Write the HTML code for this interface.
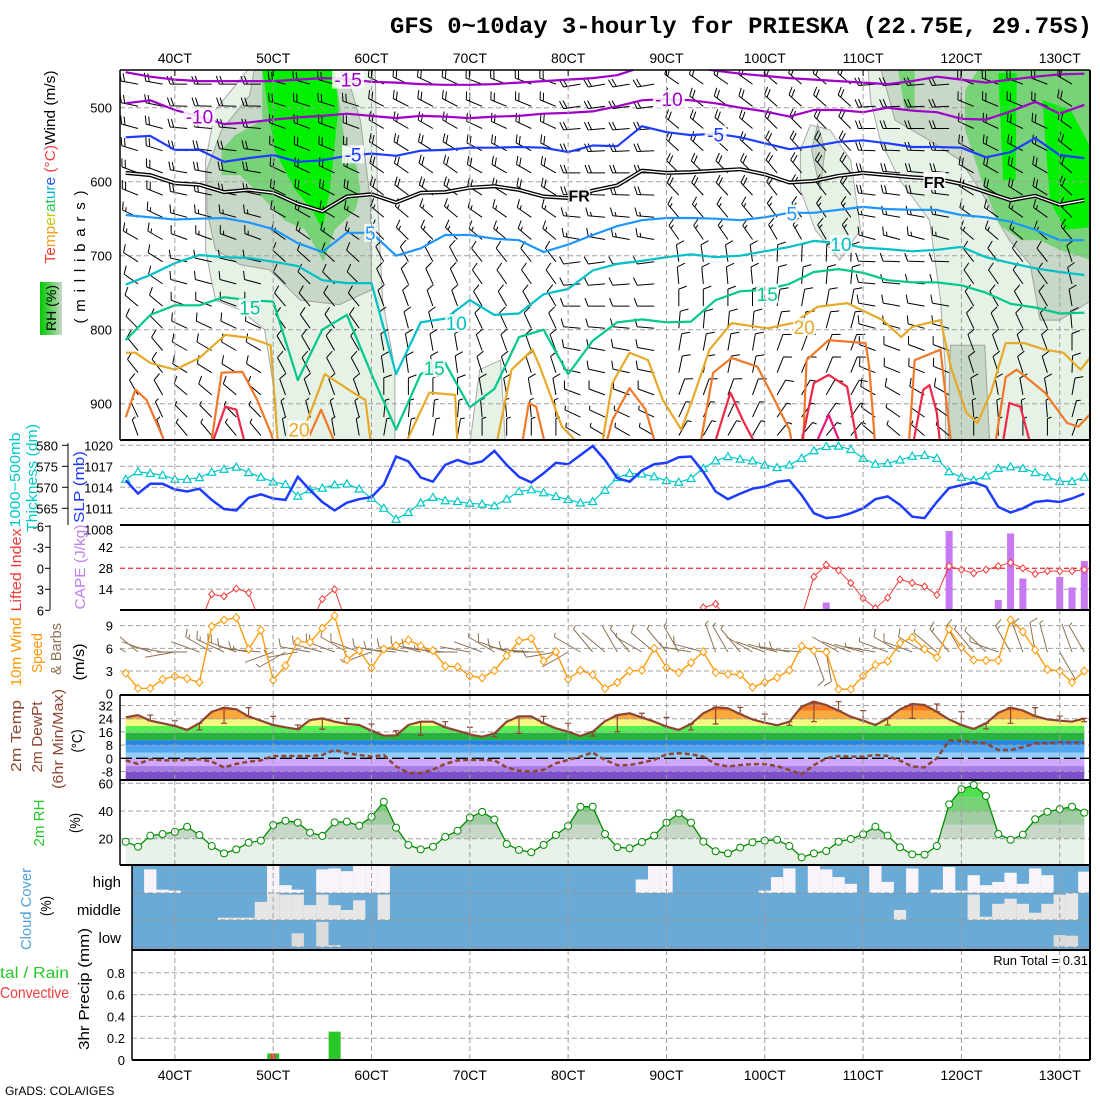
<!DOCTYPE html>
<html><head><meta charset="utf-8"><title>GFS meteogram PRIESKA</title>
<style>
html,body{margin:0;padding:0;background:#fff;}
svg{display:block;font-family:"Liberation Sans",sans-serif;}
</style></head>
<body>
<svg id="chart" xmlns="http://www.w3.org/2000/svg" width="1100" height="1100" viewBox="0 0 1100 1100">
<defs>
  <clipPath id="cTop"><rect x="120" y="70" width="970" height="370"/></clipPath>
  <clipPath id="cSlp"><rect x="120" y="440" width="970" height="85"/></clipPath>
  <clipPath id="cCape"><rect x="120" y="525" width="970" height="85"/></clipPath>
  <clipPath id="cWind"><rect x="120" y="610" width="970" height="85"/></clipPath>
  <clipPath id="cTempArea"></clipPath>
  <clipPath id="cRhArea"></clipPath>
  <linearGradient id="rhLeg" x1="0" x2="1" y1="0" y2="0">
    <stop offset="0" stop-color="#00c800"/><stop offset="0.45" stop-color="#58d058"/><stop offset="1" stop-color="#c8d8c8"/>
  </linearGradient>
</defs>
<rect x="0" y="0" width="1100" height="1100" fill="#fff"/>

<text x="390" y="33" font-family="Liberation Mono, monospace" font-weight="bold" font-size="23" textLength="702" lengthAdjust="spacingAndGlyphs">GFS 0~10day 3-hourly for PRIESKA (22.75E, 29.75S)</text>

<g id="gTop" clip-path="url(#cTop)"></g>
<g id="gSlp" clip-path="url(#cSlp)"></g>
<g id="gCape" clip-path="url(#cCape)"></g>
<g id="gWind" clip-path="url(#cWind)"></g>
<g id="gTemp"></g>
<g id="gRh"></g>
<g id="gCloud"></g>
<g id="gPrecip"></g>
<g id="gGrid"></g>
<g id="gFrames"></g>
<g id="gAxis"></g>

<g font-size="15">
  <text transform="translate(55,167) rotate(-90)" text-anchor="middle" textLength="193" lengthAdjust="spacingAndGlyphs"><tspan fill="#f03c28">Te</tspan><tspan fill="#f0a020">mp</tspan><tspan fill="#c8c800">er</tspan><tspan fill="#28c850">at</tspan><tspan fill="#00b4c8">ur</tspan><tspan fill="#1e50ff">e</tspan><tspan fill="#f03c3c"> (°C)</tspan><tspan fill="#000">Wind (m/s)</tspan></text>
  <text transform="translate(85,257) rotate(-90)" text-anchor="middle" textLength="133" lengthAdjust="spacing">(millibars)</text>
  <rect x="40" y="282" width="22" height="53" fill="url(#rhLeg)"/>
  <text transform="translate(56,308) rotate(-90)" text-anchor="middle" font-size="14" textLength="46" lengthAdjust="spacingAndGlyphs">RH (%)</text>
  <text transform="translate(20,480) rotate(-90)" text-anchor="middle" fill="#00c8c8" textLength="95" lengthAdjust="spacingAndGlyphs">1000−500mb</text>
  <text transform="translate(37,478) rotate(-90)" text-anchor="middle" fill="#00c8c8" textLength="108" lengthAdjust="spacingAndGlyphs">Thickness (dm)</text>
  <text transform="translate(84,487) rotate(-90)" text-anchor="middle" fill="#1e3cff" textLength="72" lengthAdjust="spacingAndGlyphs">SLP (mb)</text>
  <text transform="translate(21,570) rotate(-90)" text-anchor="middle" fill="#f03c3c" textLength="83" lengthAdjust="spacingAndGlyphs">Lifted Index</text>
  <text transform="translate(85,567) rotate(-90)" text-anchor="middle" fill="#c080f0" textLength="85" lengthAdjust="spacingAndGlyphs">CAPE (J/kg)</text>
  <text transform="translate(21,652) rotate(-90)" text-anchor="middle" fill="#ff9600" textLength="69" lengthAdjust="spacingAndGlyphs">10m Wind</text>
  <text transform="translate(42,653) rotate(-90)" text-anchor="middle" fill="#ff9600" textLength="40" lengthAdjust="spacingAndGlyphs">Speed</text>
  <text transform="translate(61,649) rotate(-90)" text-anchor="middle" fill="#8c7050" textLength="52" lengthAdjust="spacingAndGlyphs">&amp; Barbs</text>
  <text transform="translate(84,662) rotate(-90)" text-anchor="middle" textLength="37" lengthAdjust="spacingAndGlyphs">(m/s)</text>
  <text transform="translate(21,736) rotate(-90)" text-anchor="middle" fill="#8c4632" textLength="72" lengthAdjust="spacingAndGlyphs">2m Temp</text>
  <text transform="translate(42,737) rotate(-90)" text-anchor="middle" fill="#8c4632" textLength="71" lengthAdjust="spacingAndGlyphs">2m DewPt</text>
  <text transform="translate(63,739) rotate(-90)" text-anchor="middle" fill="#8c4632" textLength="100" lengthAdjust="spacingAndGlyphs">(6hr Min/Max)</text>
  <text transform="translate(82,741) rotate(-90)" text-anchor="middle" textLength="23" lengthAdjust="spacingAndGlyphs">(°C)</text>
  <text transform="translate(44,823) rotate(-90)" text-anchor="middle" fill="#28c828" textLength="47" lengthAdjust="spacingAndGlyphs">2m RH</text>
  <text transform="translate(80,823) rotate(-90)" text-anchor="middle" textLength="20" lengthAdjust="spacingAndGlyphs">(%)</text>
  <text transform="translate(31,909) rotate(-90)" text-anchor="middle" fill="#50a0d8" textLength="82" lengthAdjust="spacingAndGlyphs">Cloud Cover</text>
  <text transform="translate(51,906) rotate(-90)" text-anchor="middle" textLength="20" lengthAdjust="spacingAndGlyphs">(%)</text>
  <text x="121" y="887" text-anchor="end">high</text>
  <text x="121" y="915" text-anchor="end">middle</text>
  <text x="121" y="943" text-anchor="end">low</text>
  <text x="0" y="978" fill="#28c828" font-size="16" textLength="69" lengthAdjust="spacingAndGlyphs">tal / Rain</text>
  <text x="0" y="998" fill="#f03c3c" font-size="16" textLength="69" lengthAdjust="spacingAndGlyphs">Convective</text>
  <text transform="translate(89,989) rotate(-90)" text-anchor="middle" textLength="122" lengthAdjust="spacingAndGlyphs">3hr Precip (mm)</text>
  <text x="1088" y="965" text-anchor="end" font-size="13">Run Total = 0.31</text>
  <text x="5" y="1095" font-size="12">GrADS: COLA/IGES</text>
</g>
</svg>

<script>
// ---------- DATA ----------
const dayLabels=['40CT','50CT','60CT','70CT','80CT','90CT','100CT','110CT','120CT','130CT'];
const dayIdx=[4,12,20,28,36,44,52,60,68,76];
const pTicks=[500,600,700,800,900];
const cM15=[452,458,462,464,464,464,464,462,460,461,465,466,468,469,469,468,466,464,462,460,456,445,440,445,450,454,457,460,462,464,466,468,464,458,462,466,462,458,455,454];
const cM10=[494,490,503,512,522,520,516,513,511,508,511,514,511,512,514,512,511,508,507,505,498,490,488,490,494,500,505,512,503,503,506,500,504,506,515,516,505,492,508,496];
const cM5=[540,538,557,557,573,568,564,573,571,565,562,565,558,557,554,554,553,554,560,551,552,525,533,537,535,540,548,556,552,546,544,548,553,553,554,567,560,541,564,568];
const c0=[588,591,602,604,614,611,615,630,640,620,617,628,615,614,608,606,611,620,622,612,605,585,588,587,585,583,590,601,599,592,588,591,594,596,603,614,625,619,631,625];
const c5=[645,648,651,650,649,655,664,683,695,669,669,700,690,672,672,677,679,695,685,672,660,652,649,649,650,652,648,642,642,638,634,637,638,638,645,648,654,665,679,679];
const c10=[739,726,710,699,702,703,708,714,733,737,737,860,790,785,760,780,778,752,745,720,711,707,702,698,702,700,694,688,680,683,689,691,694,692,688,702,710,717,722,726];
const c15=[814,780,767,767,756,760,762,868,800,780,860,935,860,845,905,880,810,800,860,815,790,786,790,789,760,748,746,738,722,718,723,733,736,736,740,750,765,770,778,777];
const t20=[0,0.8,2,4,6,8.1,10.1,11.8,12.4,14.2,14.8,16.2,18.8,19.5,20,22.6,24.7,26.8,27,30.1,31.4,33.1,33.7,35.5,37.2,38.7,39.6,41,42.5,43.7,45.2,46.1,47.5,49.3,52.2,54.3,56.3,58.7,61.6,63.1,64,66.3,67.2,68.4,69.3,70.4,71.6,73.1,74.8,76.3,77.7,78.5];
const p20=[831,831,845,854,838,807,811,821,960,960,922,860,888,895,960,960,885,888,960,960,854,827,850,931,960,960,872,831,841,895,935,895,827,791,798,791,769,764,787,810,796,787,854,912,926,885,818,818,827,831,854,837];
const t25=[0,0.8,1.7,3.4,6.9,7.8,9.5,10.7,11.8,12.2,14.5,15.9,17.2,32.2,32.8,33.4,34.2,39,39.6,41,42.3,43.2,46.7,47.8,49.3,51.4,52.5,54,54.3,55.1,55.4,57.2,60.2,60.5,61,63.7,64.2,66.3,67.2,70.7,71.6,72.5,74.8,76.6,77.5,78.6];
const p25=[918,881,895,960,960,858,857,895,939,960,960,908,960,960,899,904,960,960,922,879,908,960,960,858,838,850,885,935,960,960,841,814,818,850,960,960,841,827,960,960,864,854,885,926,931,912];
const t30=[6.9,8.1,9,9.8,47.8,49.2,50.2,51.4,54.9,56,57.2,58.7,59.6,64,64.9,65.4,66,66.3,71.3,71.9,72.8,73.7];
const p30=[960,904,908,960,960,885,922,960,960,872,861,877,960,960,881,875,912,960,960,899,904,960];
const t35=[56,57.2,58.3];
const p35=[960,915,960];
const cLabText=['-15','-10','-10','-5','-5','FR','FR','5','5','10','10','15','15','15','20','20'];
const cLabIdx=[18.1,6.0,44.2,18.5,48.0,36.9,65.8,19.9,54.2,26.9,58.2,10.1,25.1,52.2,14.1,55.2];
const cLabP=[462,512,488,563,536,617,599,669,643,791,684,770,852,752,935,796];
const rhLightI=[[6.5,7.3,9.3,10.1,20.3,20.5,20.9,21.9,21.9,12.4,12.2,11.3,9.3,7.3,6.5],[60.4,78.6,78.6,66.7,66.7,66.3,65.4,63.0,61.4,60.6],[54.9,55.7,57.3,59.0,59.8,58.1,56.1,54.9],[28.0,28.8,30.5,30.9]];
const rhLightP=[[571,503,462,445,445,625,760,854,955,955,895,800,773,760,693],[445,445,955,955,854,760,652,598,544,490],[557,523,530,571,665,706,665,611],[955,854,841,955]];
const rhDarkI=[[6.6,7.8,10.1,10.5,17.8,19.1,19.9,20.0,17.4,14.2,11.7,9.3,7.3,6.6],[61.4,62.6,65.4,67.9,69.5,70.7,71.9,73.6,74.4,76.0,78.6,78.6],[67.1,69.9,70.3,66.9],[55.8,56.3,56.9,56.5]];
const rhDarkP=[[584,530,483,445,445,517,625,746,766,760,719,712,692,638],[445,517,544,571,611,645,679,712,787,787,760,445],[821,821,955,955],[557,523,557,611]];
const rhMedI=[[7.8,8.9,11.1,11.1,17.0,17.8,18.7,19.1,18.7,17.0,16.1,14.6,12.9,11.7,9.3,7.8],[68.3,69.5,78.6,78.6,76.0,74.4,72.8,71.1,69.9,69.1,68.3],[62.8,64.2,64.2,63.4]];
const rhMedP=[[557,537,517,445,445,544,571,611,638,665,708,665,652,631,591,591],[476,445,445,706,692,679,679,658,611,571,530],[445,445,503,503]];
const rhBrightI=[[11.1,17.0,17.3,16.6,16.0,15.2,13.8,12.1,11.6],[71.0,72.5,72.4,71.4],[74.6,76.9,78.6,78.6,76.4,75.2]];
const rhBrightP=[[445,445,503,611,665,638,611,557,503],[453,453,598,598],[490,503,557,661,665,625]];
const barbLevels=[468,498,528,558,588,618,648,678,708,738,768,798,828,858,888,918,943];
const barbSpd=[12,12,11,11,10,10,9,8,7,6,6,5,5,5,5,4,4];
const barbDir=[280,282,285,287,290,292,295,300,302,305,310,315,320,322,330,335,340];
const barbDayShift=[0,-10,5,15,10,-20,25,30,-15,10,20];
const slp=[1015.0,1013.1,1014.5,1014.5,1013.7,1013.4,1013.8,1012.2,1010.9,1010.7,1012.5,1013.0,1012.4,1012.2,1015.5,1013.6,1011.9,1010.7,1011.8,1012.3,1012.6,1014.4,1018.4,1017.7,1015.4,1014.8,1017.2,1017.9,1017.3,1017.7,1019.2,1017.2,1015.5,1014.7,1016.0,1017.5,1017.3,1018.6,1019.9,1017.9,1015.3,1014.8,1016.4,1017.3,1017.5,1018.3,1018.4,1016.2,1013.4,1012.3,1013.1,1013.8,1014.1,1014.8,1015.0,1012.9,1010.3,1009.6,1009.8,1010.3,1011.0,1012.3,1012.7,1011.5,1009.8,1009.6,1011.9,1013.9,1014.3,1014.7,1014.1,1011.2,1010.4,1011.0,1011.9,1012.1,1011.9,1012.4,1013.1];
const thick=[571.9,573.7,573.3,572.9,571.9,571.9,572.3,573.6,574.3,574.8,573.5,572.4,571.3,570.7,567.9,569.4,569.8,570.6,570.8,569.6,567.4,565.0,562.4,564.0,566.3,567.6,566.8,566.6,566.2,566.0,565.6,567.2,569.0,569.4,568.7,567.8,567.1,566.3,566.6,569.3,572.3,573.3,573.2,572.5,571.6,571.2,572.1,574.5,576.3,577.3,576.7,576.3,575.3,574.7,575.3,576.9,578.7,579.7,579.8,579.0,576.9,575.5,575.7,576.5,577.4,577.6,576.9,573.7,572.4,571.7,572.7,574.5,574.9,574.5,573.5,572.5,571.4,571.4,572.4];
const li=[9,9,9,9,9,9,8,3.7,4.0,2.9,3.5,8,9,9,9,8,4.4,3.0,8,9,9,9,9,9,9,9,9,9,9,9,9,9,9,9,9,9,9,9,9,9,9,9,9,9,9,9,7.5,5.6,5.1,7.5,9,9,9,9,9,7,1.2,-0.5,0.3,2.1,4.3,5.7,4.2,1.6,2.1,2.6,3.8,-0.3,0.2,0.7,0.2,-0.3,-0.8,0,0.8,0.4,0.4,0.4,0.2];
const capeIdx=[57,67,71,72,73,76,77,78];
const capeVal=[5,52.7,6.7,51,21,22,15,32.7];
const ws=[2.7,0.7,0.7,1.9,2.3,2.0,1.5,8.9,9.75,10.05,5.9,8.4,1.8,3.7,6.9,6.8,8.65,10.3,4.5,5.7,3.4,5.9,6.35,7.1,6.3,5.7,3.65,3.55,2.35,2.1,3.05,5.0,7.0,7.3,4.3,5.55,1.95,3.1,2.5,0.7,1.5,3.0,3.1,6.0,3.45,2.8,4.1,5.55,2.8,2.6,2.5,0.85,1.5,2.15,3.1,6.3,5.7,5.5,0.6,0.6,2.35,3.8,4.3,6.7,7.45,5.9,4.8,8.55,6.15,4.45,4.4,4.4,9.75,8.2,5.8,3.2,3.0,1.5,3.0];
const wdir=[300,310,290,280,260,270,290,300,295,290,280,275,250,240,260,280,285,290,300,290,250,280,275,280,285,280,275,270,280,290,300,290,280,275,270,260,240,300,320,310,330,320,300,310,320,330,280,285,340,330,320,300,290,285,280,275,160,170,300,290,285,280,290,300,290,300,310,320,330,320,315,290,330,340,350,345,150,340,330];
const temp=[24.8,26.2,22.8,21.2,19.6,17.2,21.2,28.2,30.7,29.7,25.4,22.8,20.2,18.8,17.6,23.2,24.2,22.2,20.8,20.2,16.7,13.7,13.9,20.2,22.2,22.2,18.8,16.7,14.5,13.1,15.1,22.2,25.4,25.4,21.2,18.2,16.1,13.5,16.1,22.5,26.2,27.3,24.8,22.2,19.2,17.2,20.8,27.3,30.9,30.3,26.8,23.6,21.6,20,22.2,31.3,34.3,32.3,28.9,25.2,22.8,20.2,24.2,29.7,32.9,32.3,28.2,23.6,20.2,17.8,21.2,27.6,30.7,28.9,25.6,23.6,22.8,22.2,24.2];
const dewpt=[-1.3,-3.4,-0.6,-1.3,-1.3,-1,-0.6,-2,-5.5,-3.4,-2,-1.3,1.4,1.4,1.4,1.4,2,5,3,2,1,2,-5,-8.9,-8.9,-6.9,-3.4,-1.3,-1,-1,-1.3,-5.5,-7.5,-8.1,-6.9,-3,-1,1,3.4,-1,-4.1,-4.1,-2.6,-1,2.4,3,2.4,1,-3.5,-5,-4.1,-3.5,-3.5,-4.7,-7.1,-9.7,-4.1,0,1.4,1,1,2,1.4,-1.4,-5,-5.5,0,10.7,10.7,9.7,9.1,5,5,6.7,9.1,9.1,9.7,9.7,9.4];
const tempBandLo=[-15,-8,-4.7,0,3.4,8,11,15.5,19.6,23.6,28.9,32.5];
const tempBandHi=[-8,-4.7,0,3.4,8,11,15.5,19.6,23.6,28.9,32.5,40];
const tempBandCol=['#7c50cc','#a87ce8','#d0a8fc','#96cdfa','#52a5f0','#2383e6','#28b43c','#50f050','#f8f880','#faaa3c','#f87820','#f04010'];
const tempTicks=[32,24,16,8,0,-8];
const rh=[17.8,14.2,22.2,23.4,25,28.6,22.7,14.7,9.4,12.3,17.1,18.6,29.9,33,31.6,24.4,22,31.8,32.3,29.4,35.8,46.7,28,15.5,12.3,14.2,21.4,25.7,35.3,39.4,33.9,16.2,11.9,10.2,15.5,22.7,29.2,43.1,43.1,23.4,13.8,13.1,17.6,22.2,31.6,38.3,31.6,17.9,10.9,9.4,13.6,17.4,18.6,19.2,14.7,6.5,9.4,11.1,17.8,19.8,23.2,28.7,22.2,13.8,8.7,8.5,14.7,44.8,55.7,58.8,50.8,23.4,19.2,22.9,34,39.5,41.4,43.1,38.8];
const rhBandLo=[0,20,30,40,50];
const rhBandHi=[20,30,40,50,70];
const rhBandCol=['#e8f2e8','#c8d8c8','#a2cca2','#78d278','#50e050'];
const cloudHigh=[0,0,0.875,0.125,0.09,0,0,0,0,0,0,0,1,0.29,0.125,0,0.875,0.91,0.81,1,1,1,0,0,0,0,0,0,0,0,0,0,0,0,0,0,0,0,0,0,0,0,0.5,1,1,0,0,0,0,0,0,0,0.09,0.59,0.91,0,1,0.875,0.59,0.34,0,1,0.41,0,0.91,0,0.125,0.96,0.09,0.66,0.29,0.41,0.75,0.34,0.91,0.66,0,0,0.79];
const cloudMid=[0,0,0,0,0,0,0,0,0.085,0.085,0.085,0.67,1,0.94,0.94,0.55,0.94,0.55,0.37,0.73,0,0.94,0,0,0,0,0,0,0,0,0,0,0,0,0,0,0,0,0,0,0,0,0,0,0,0,0,0,0,0,0,0,0,0,0,0,0,0,0,0,0,0,0,0.37,0,0,0,0,0,0.94,0.12,0.6,0.79,0.6,0.27,0.6,0.94,1,0];
const cloudLow=[0,0,0,0,0,0,0,0,0,0,0,0,0,0,0.51,0,0.93,0.07,0,0,0,0,0,0,0,0,0,0,0,0,0,0,0,0,0,0,0,0,0,0,0,0,0,0,0,0,0,0,0,0,0,0,0,0,0,0,0,0,0,0,0,0,0,0,0,0,0,0,0,0,0,0,0,0,0,0,0.44,0.42,0];
const precipIdx=[12,17];
const precipTotal=[0.06,0.26];
const precipConv=[0.06,0];
const precipTicks=[0.8,0.6,0.4,0.2,0];

// ---------- AXES ----------
const NS='http://www.w3.org/2000/svg';
const X=i=>125.7+12.29*i;
const Ytop=p=>70+(p-449)*0.74;
const Yslp=v=>487.3-(v-1014)*7;
const Yth=v=>487.3-(v-570)*4.2;
const Yli=v=>568.3+v*7;
const Ycape=v=>610-v*1.5;
const Yws=v=>693.7-v*7.56;
const Ytemp=v=>758.3-v*1.65;
const Yrh=v=>866.4-v*1.385;
const Ypr=v=>1060-v*109;
function mk(tag,attrs,parent){const e=document.createElementNS(NS,tag);for(const k in attrs)e.setAttribute(k,attrs[k]);parent.appendChild(e);return e;}
const G=id=>document.getElementById(id);
const gTop=G('gTop'),gSlp=G('gSlp'),gCape=G('gCape'),gWind=G('gWind'),gTemp=G('gTemp'),gRh=G('gRh'),gCloud=G('gCloud'),gPrecip=G('gPrecip'),gGrid=G('gGrid'),gFrames=G('gFrames'),gAxis=G('gAxis');
const evenIdx=cM15.map((_,k)=>2*k);
function pathFrom(ts,vs,fx,fy){return ts.map((t,k)=>(k?'L':'M')+fx(t).toFixed(1)+' '+fy(vs[k]).toFixed(1)).join(' ');}
function polyFrom(ts,vs){return ts.map((t,k)=>X(t).toFixed(1)+','+Ytop(vs[k]).toFixed(1)).join(' ');}

// ---------- TOP PANEL ----------
function shade(I,P,fill,stroke,name){
  I.forEach((ti,k)=>{
    const e=mk('polygon',{points:polyFrom(ti,P[k]),fill:fill,stroke:stroke,'stroke-width':1},gTop);
    
    
  });
}
shade(rhLightI,rhLightP,'#e6f2e6','#a8a8a8','rh-shade-light');
shade(rhDarkI,rhDarkP,'#c8d8c8','#a0a0a0','rh-shade-gray');
shade(rhMedI,rhMedP,'#78d278','none','rh-shade-green');
shade(rhBrightI,rhBrightP,'#00f000','none','rh-shade-bright');

pTicks.forEach(p=>{
  const e=mk('line',{x1:120,x2:1090,y1:Ytop(p),y2:Ytop(p),stroke:'#a0a0a0','stroke-dasharray':'5,3','stroke-width':1},gTop);
  
  
});

function barb(x,y,dir,spd,len,color,parent,name){
  const r=dir*Math.PI/180, ux=Math.sin(r), uy=-Math.cos(r);
  const ex=x+ux*len, ey=y+uy*len;
  let d='M'+x.toFixed(1)+' '+y.toFixed(1)+'L'+ex.toFixed(1)+' '+ey.toFixed(1);
  const px=-uy, py=ux;
  let n=Math.floor(spd/5), half=(spd%5)>=2.5, pos=0;
  for(let k=0;k<n;k++){
    const bx=ex-ux*pos, by=ey-uy*pos;
    d+='M'+bx.toFixed(1)+' '+by.toFixed(1)+'L'+(bx+px*8+ux*3).toFixed(1)+' '+(by+py*8+uy*3).toFixed(1);
    pos+=3.5;
  }
  if(half){const bx=ex-ux*pos, by=ey-uy*pos;
    d+='M'+bx.toFixed(1)+' '+by.toFixed(1)+'L'+(bx+px*4+ux*1.5).toFixed(1)+' '+(by+py*4+uy*1.5).toFixed(1);}
  const e=mk('path',{d:d,stroke:color,'stroke-width':1,fill:'none'},parent);
  
  
}
for(let i=1;i<79;i+=2){
  const day=Math.floor((i+4)/8);
  barbLevels.forEach((p,k)=>{
    barb(X(i),Ytop(p),barbDir[k]+barbDayShift[day]*(k>7?2:1),barbSpd[k],17,'#000',gTop,'upper-wind-barb');
  });
}

function contour(ts,vs,color,w,name){
  const e=mk('path',{d:pathFrom(ts,vs,X,Ytop),stroke:color,'stroke-width':w,fill:'none','stroke-linejoin':'round'},gTop);
  
  
}
contour(evenIdx,cM15,'#a000c8',2.2,'contour-minus15');
contour(evenIdx,cM10,'#a000c8',2.2,'contour-minus10');
contour(evenIdx,cM5,'#1e3cff',2.2,'contour-minus5');
contour(evenIdx,c0,'#000',4,'contour-freezing-outer');
contour(evenIdx,c0,'#fff',1.3,'contour-freezing-inner');
contour(evenIdx,c5,'#1e96ff',2.2,'contour-plus5');
contour(evenIdx,c10,'#00c0c8',2.2,'contour-plus10');
contour(evenIdx,c15,'#00c88c',2.2,'contour-plus15');
contour(t20,p20,'#e6aa28',2.2,'contour-plus20');
contour(t25,p25,'#f07828',2.2,'contour-plus25');
contour(t30,p30,'#f02846',2.2,'contour-plus30');
contour(t35,p35,'#f0147d',2.2,'contour-plus35');
const labCol={'-15':'#a000c8','-10':'#a000c8','-5':'#1e3cff','FR':'#000','5':'#1e96ff','10':'#00c0c8','15':'#00c88c','20':'#e6aa28'};
cLabText.forEach((s,k)=>{
  const x=X(cLabIdx[k]), y=Ytop(cLabP[k]);
  const w=s.length*10+2;
  const bg=mk('rect',{x:x-w/2,y:y-9,width:w,height:18,fill:'#fff','fill-opacity':'0.85'},gTop);
  
  
  const t=mk('text',{x:x,y:y+7,'text-anchor':'middle','font-size':s==='FR'?16:19,fill:labCol[s],'font-weight':s==='FR'?'bold':'normal'},gTop);
  t.textContent=s;
  
  
});

// ---------- SLP / thickness ----------
[1020,1017,1014,1011].forEach(v=>{
  const e=mk('line',{x1:120,x2:1090,y1:Yslp(v),y2:Yslp(v),stroke:'#a0a0a0','stroke-dasharray':'5,3'},gSlp);
  
  
});
const idxAll=slp.map((_,i)=>i);
let e1=mk('path',{d:pathFrom(idxAll,thick,X,Yth),stroke:'#00c8c8','stroke-width':1.2,fill:'none'},gSlp);


thick.forEach((v,i)=>{
  const x=X(i),y=Yth(v);
  const m=mk('polygon',{points:`${x},${y-4} ${x-4},${y+3} ${x+4},${y+3}`,fill:'#fff',stroke:'#00c8c8','stroke-width':1.2},gSlp);
  
  
});
let e2=mk('path',{d:pathFrom(idxAll,slp,X,Yslp),stroke:'#1e3cff','stroke-width':2.5,fill:'none'},gSlp);



// ---------- CAPE / LI ----------
[-3,3].forEach(v=>{
  const e=mk('line',{x1:120,x2:1090,y1:Yli(v),y2:Yli(v),stroke:'#a0a0a0','stroke-dasharray':'5,3'},gCape);
  
  
});
let e3=mk('line',{x1:120,x2:1090,y1:Yli(0),y2:Yli(0),stroke:'#f03c3c','stroke-dasharray':'5,3','stroke-width':1.3},gCape);


capeIdx.forEach((i,k)=>{
  const b=mk('rect',{x:X(i)-3.5,y:Ycape(capeVal[k]),width:7,height:610-Ycape(capeVal[k]),fill:'#c878f0'},gCape);
  
  
});
let e4=mk('path',{d:pathFrom(idxAll,li,X,Yli),stroke:'#f03c3c','stroke-width':1,fill:'none'},gCape);


li.forEach((v,i)=>{
  if(v>6.5)return;
  const x=X(i),y=Yli(v);
  const m=mk('polygon',{points:`${x},${y-3.5} ${x+3},${y} ${x},${y+3.5} ${x-3},${y}`,fill:'#fff',stroke:'#f03c3c','stroke-width':1},gCape);
  
  
});

// ---------- 10 m wind ----------
[3,6,9].forEach(v=>{
  const e=mk('line',{x1:120,x2:1090,y1:Yws(v),y2:Yws(v),stroke:'#a0a0a0','stroke-dasharray':'5,3'},gWind);
  
  
});
ws.forEach((v,i)=>{ barb(X(i),652,wdir[i],v,30,'#8c7050',gWind,'wind10m-barb'); });
let e5=mk('path',{d:pathFrom(idxAll,ws,X,Yws),stroke:'#ff9600','stroke-width':1.3,fill:'none'},gWind);


ws.forEach((v,i)=>{
  const x=X(i),y=Yws(v);
  const m=mk('polygon',{points:`${x},${y-4} ${x+3.5},${y} ${x},${y+4} ${x-3.5},${y}`,fill:'#fff',stroke:'#ff9600','stroke-width':1},gWind);
  
  
});

// ---------- Temperature ----------
const cT=G('cTempArea');
let tp=mk('path',{d:'M'+X(0)+' 780 '+pathFrom(idxAll,temp,X,Ytemp).replace('M','L')+' L'+X(78)+' 780 Z'},cT);


const gTB=mk('g',{'clip-path':'url(#cTempArea)'},gTemp);


tempBandLo.forEach((lo,k)=>{
  const y1=Math.min(780,Ytemp(lo)), y2=Ytemp(tempBandHi[k]);
  const r=mk('rect',{x:120,y:y2,width:970,height:Math.max(0,y1-y2),fill:tempBandCol[k]},gTB);
  
  
});
tempTicks.forEach(v=>{
  const e=mk('line',{x1:120,x2:1090,y1:Ytemp(v),y2:Ytemp(v),stroke:v===0?'#000':'#a0a0a0','stroke-dasharray':v===0?'12,4':'5,3','stroke-width':v===0?1.3:1},gTemp);
  
  
});
for(let i=2;i<79;i+=2){
  const hi=Math.max(temp[i-2],temp[i-1],temp[i]), lo=Math.min(temp[i-2],temp[i-1],temp[i]);
  const x=X(i);
  const b=mk('path',{d:`M${x-3} ${Ytemp(hi)}H${x+3}M${x} ${Ytemp(hi)}V${Ytemp(lo)}M${x-3} ${Ytemp(lo)}H${x+3}`,stroke:'#8c4632','stroke-width':1.2,fill:'none'},gTemp);
  
  
}
let e6=mk('path',{d:pathFrom(idxAll,dewpt,X,Ytemp),stroke:'#8c4632','stroke-width':2.5,'stroke-dasharray':'5,3',fill:'none'},gTemp);


let e7=mk('path',{d:pathFrom(idxAll,temp,X,Ytemp),stroke:'#8c4632','stroke-width':2.2,fill:'none'},gTemp);



// ---------- RH ----------
const cR=G('cRhArea');
let rp=mk('path',{d:'M'+X(0)+' 865 '+pathFrom(idxAll,rh,X,Yrh).replace('M','L')+' L'+X(78)+' 865 Z'},cR);


const gRB=mk('g',{'clip-path':'url(#cRhArea)'},gRh);


rhBandLo.forEach((lo,k)=>{
  const y1=Math.min(865,Yrh(lo)), y2=Yrh(rhBandHi[k]);
  const r=mk('rect',{x:120,y:y2,width:970,height:y1-y2,fill:rhBandCol[k]},gRB);
  
  
});
[20,40,60].forEach(v=>{
  const e=mk('line',{x1:120,x2:1090,y1:Yrh(v),y2:Yrh(v),stroke:'#a0a0a0','stroke-dasharray':'5,3'},gRh);
  
  
});
let e8=mk('path',{d:pathFrom(idxAll,rh,X,Yrh),stroke:'#008c00','stroke-width':1.3,fill:'none'},gRh);


rh.forEach((v,i)=>{
  const c=mk('circle',{cx:X(i),cy:Yrh(v),r:3.5,fill:'#fff',stroke:'#008c00','stroke-width':1},gRh);
  
  
});

// ---------- Cloud ----------
let cb=mk('rect',{x:132,y:866,width:958,height:83,fill:'#6aaad6'},gCloud);


const bands=[[cloudHigh,893,'#f8f4fa','cloud-high-bar'],[cloudMid,920,'#e6e6e6','cloud-middle-bar'],[cloudLow,947,'#dcdcdc','cloud-low-bar']];
bands.forEach(bd=>{
  bd[0].forEach((f,i)=>{
    if(i<1||f<=0)return;
    const h=f*27;
    const r=mk('rect',{x:X(i)-6.15,y:bd[1]-h,width:12.3,height:h,fill:bd[2]},gCloud);
    
    
  });
});
[893,920,947].forEach(y=>{
  const e=mk('line',{x1:132,x2:1090,y1:y,y2:y,stroke:'#909090','stroke-dasharray':'5,3'},gCloud);
  
  
});

// ---------- Precip ----------
precipTicks.forEach(v=>{
  if(v===0)return;
  const e=mk('line',{x1:132,x2:1090,y1:Ypr(v),y2:Ypr(v),stroke:'#a0a0a0','stroke-dasharray':'5,3'},gPrecip);
  
  
});
precipIdx.forEach((i,k)=>{
  const r=mk('rect',{x:X(i)-6,y:Ypr(precipTotal[k]),width:12,height:1060-Ypr(precipTotal[k]),fill:'#28c828'},gPrecip);
  
  
  if(precipConv[k]>0){
    const c=mk('rect',{x:X(i)-2.5,y:Ypr(precipConv[k]),width:5,height:1060-Ypr(precipConv[k]),fill:'#f03c3c'},gPrecip);
    
    
  }
});

// ---------- vertical day grid ----------
const panelSpans=[[70,440],[440,525],[525,610],[610,695],[695,780],[780,865],[865,950],[950,1060]];
dayIdx.forEach(i=>{
  panelSpans.forEach(s=>{
    const e=mk('line',{x1:X(i),x2:X(i),y1:s[0],y2:s[1],stroke:'#a0a0a0','stroke-dasharray':'5,3'},gGrid);
    
    
  });
});

// ---------- frames ----------
function ln(x1,y1,x2,y2,w,name){
  const e=mk('line',{x1:x1,y1:y1,x2:x2,y2:y2,stroke:'#000','stroke-width':w},gFrames);
  
  
}
ln(120,70,1090,70,1.5,'top-border');
[440,525,610,695,780,865].forEach(y=>ln(120,y,1090,y,2,'panel-separator'));
ln(132,950,1090,950,2,'panel-separator');
ln(132,1060,1090,1060,2,'bottom-border');
ln(1090,70,1090,1060,2,'right-border');
ln(120,70,120,440,1.5,'left-border-top');
ln(120,695,120,865,1.5,'left-border-temp-rh');
ln(132,865,132,1060,1.5,'left-border-cloud-precip');
ln(68,443,68,525,1,'thickness-axis');
ln(50,525,50,610,1,'li-axis');

// ---------- axis labels ----------
function tx(x,y,s,anchor,name,size){
  const t=mk('text',{x:x,y:y,'text-anchor':anchor,'font-size':size||13},gAxis);
  t.textContent=s;
  
  
}
dayIdx.forEach((i,k)=>{
  tx(X(i),63,dayLabels[k],'middle','top-time-label',14);
  tx(X(i),1080,dayLabels[k],'middle','bottom-time-label',14);
  ln(X(i),70,X(i),76,1,'top-time-tick');
});
pTicks.forEach(p=>tx(112,Ytop(p)+5,String(p),'end','pressure-tick-label'));
[1020,1017,1014,1011,1008].forEach(v=>tx(113,Yslp(v)+5,String(v),'end','slp-tick-label'));
[580,575,570,565].forEach(v=>{tx(58,Yth(v)+5,String(v),'end','thickness-tick-label');ln(62,Yth(v),68,Yth(v),1,'thickness-tick');});
[-6,-3,0,3,6].forEach(v=>{tx(44,Yli(v)+5,String(v),'end','li-tick-label');ln(45,Yli(v),50,Yli(v),1,'li-tick');});
[42,28,14].forEach(v=>tx(113,Ycape(v)+5,String(v),'end','cape-tick-label'));
[9,6,3,0].forEach(v=>tx(113,Yws(v)+5,String(v),'end','wind-tick-label'));
tempTicks.forEach(v=>tx(113,Ytemp(v)+5,String(v),'end','temp-tick-label'));
[60,40,20].forEach(v=>tx(113,Yrh(v)+5,String(v),'end','rh-tick-label'));
precipTicks.forEach(v=>tx(125,Ypr(v)+5,v===0?'0':v.toFixed(1),'end','precip-tick-label'));
</script>
</body></html>
